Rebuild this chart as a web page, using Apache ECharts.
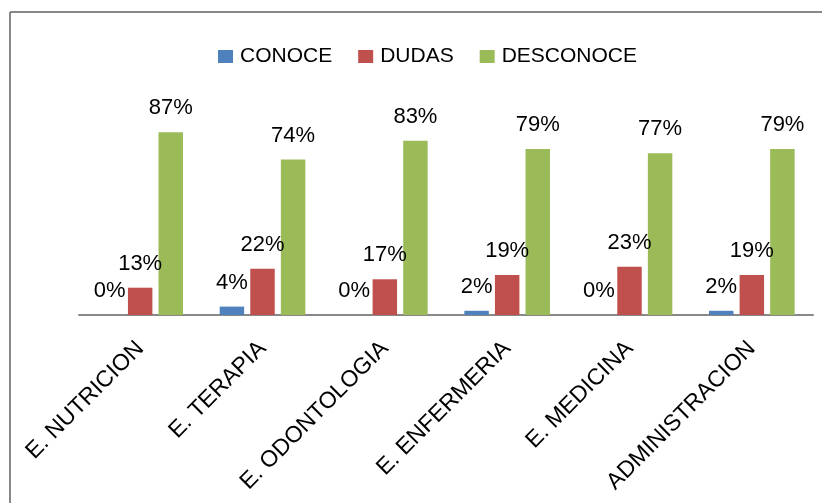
<!DOCTYPE html>
<html>
<head>
<meta charset="utf-8">
<script src="https://cdn.jsdelivr.net/npm/echarts@6/dist/echarts.min.js"></script>
<style>
  html, body { margin: 0; padding: 0; background: #fff; }
  #chart { width: 827px; height: 503px; }
</style>
</head>
<body>
<div id="chart"></div>
<script>
const categories = ['E. NUTRICION', 'E. TERAPIA', 'E. ODONTOLOGIA', 'E. ENFERMERIA', 'E. MEDICINA', 'ADMINISTRACION']
const conoce = [0, 4, 0, 2, 0, 2]
const dudas = [13, 22, 17, 19, 23, 19]
const desconoce = [87, 74, 83, 79, 77, 79]

const font = 'Liberation Sans, Arial, sans-serif'
const chart = echarts.init(document.getElementById('chart'))

function barSeries(name, data, color) {
  return {
    name: name,
    type: 'bar',
    data: data,
    barGap: '25%',
    barCategoryGap: '30%',
    itemStyle: { color: color },
    label: {
      show: true,
      position: 'top',
      distance: 13,
      formatter: '{c}%',
      color: '#000',
      fontFamily: font,
      fontSize: 22
    }
  }
}

chart.setOption({
  animation: false,
  legend: {
    left: 213,
    top: 41,
    itemWidth: 15,
    itemHeight: 13,
    itemGap: 26,
    icon: 'rect',
    textStyle: { fontFamily: font, fontSize: 21, color: '#000', padding: [0, 0, 0, 2] },
    data: ['CONOCE', 'DUDAS', 'DESCONOCE']
  },
  grid: { left: 79, right: 14, top: 105, bottom: 188 },
  xAxis: {
    type: 'category',
    data: categories,
    axisLine: { lineStyle: { color: '#888', width: 2 } },
    axisTick: { show: false },
    axisLabel: {
      rotate: 45,
      interval: 0,
      margin: 30,
      color: '#000',
      fontFamily: font,
      fontSize: 23
    }
  },
  yAxis: {
    type: 'value',
    min: 0,
    max: 100,
    show: false
  },
  series: [
    barSeries('CONOCE', conoce, '#4F81BD'),
    barSeries('DUDAS', dudas, '#C0504D'),
    barSeries('DESCONOCE', desconoce, '#9BBB59')
  ],
  graphic: [
    { type: 'line', shape: { x1: 10, y1: 12, x2: 822, y2: 12 }, style: { stroke: '#888', lineWidth: 2 } },
    { type: 'line', shape: { x1: 10, y1: 12, x2: 10, y2: 503 }, style: { stroke: '#888', lineWidth: 2 } }
  ]
})
</script>
</body>
</html>
